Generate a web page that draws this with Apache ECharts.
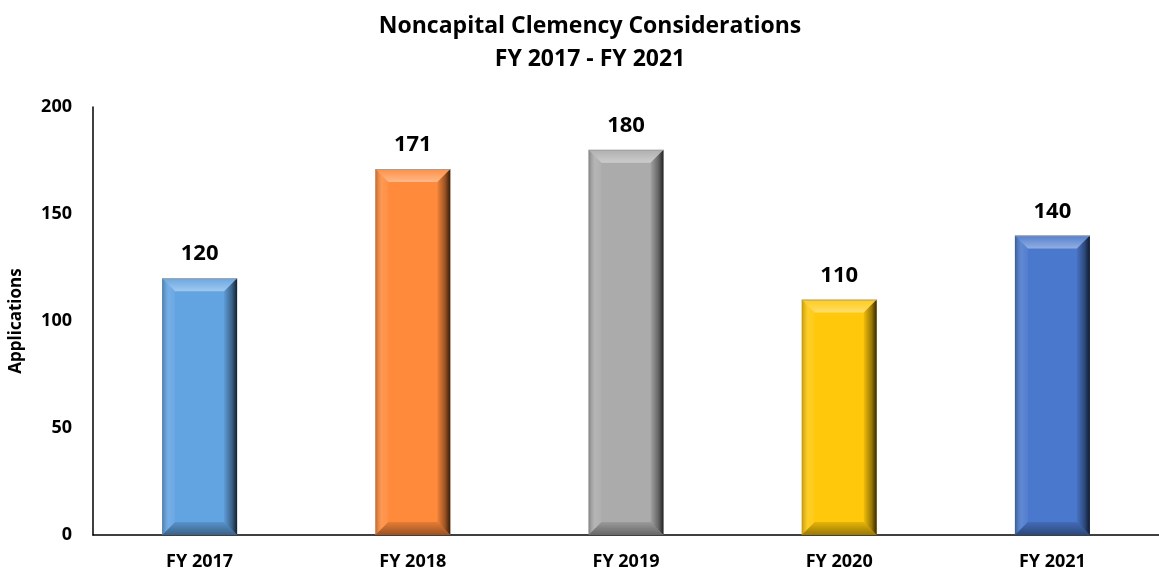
<!DOCTYPE html>
<html>
<head>
<meta charset="utf-8">
<script src="https://cdn.jsdelivr.net/npm/echarts@6/dist/echarts.min.js"></script>
<style>
  html, body { margin: 0; padding: 0; background: #fff; }
  #chart { width: 1159px; height: 571px; }
</style>
</head>
<body>
<div id="chart"></div>
<script>
// Noncapital clemency considerations, FY 2017 - FY 2021

var categories = ['FY 2017', 'FY 2018', 'FY 2019', 'FY 2020', 'FY 2021'];
var applications = [120, 171, 180, 110, 140];
var barColors = ['#62A3E2', '#FF8A3B', '#ABABAB', '#FFC80A', '#4A78CC'];
var yTicks = [0, 50, 100, 150, 200];

var fontFamily = '"Open Sans", Lato, sans-serif';

var chart = echarts.init(document.getElementById('chart'));

// bevel overlay drawn on top of each bar
function renderBevel(params, api) {
    var top = api.coord([api.value(0), api.value(1)]);
    var base = api.coord([api.value(0), 0]);
    var w = 75;
    var b = 13;
    var x0 = top[0] - w / 2, x1 = top[0] + w / 2;
    var y0 = top[1], y1 = base[1];
    return {
        type: 'group',
        children: [
            {
                type: 'polygon',
                shape: { points: [[x0, y0], [x1, y0], [x1 - b, y0 + b], [x0 + b, y0 + b]] },
                style: { fill: new echarts.graphic.LinearGradient(0, 0, 0, 1, [
                    { offset: 0, color: 'rgba(255,255,255,0.05)' },
                    { offset: 1, color: 'rgba(255,255,255,0.4)' }
                ]) }
            },
            {
                type: 'polygon',
                shape: { points: [[x0, y0], [x0 + b, y0 + b], [x0 + b, y1 - b], [x0, y1]] },
                style: { fill: new echarts.graphic.LinearGradient(0, 0, 1, 0, [
                    { offset: 0, color: 'rgba(0,0,0,0.25)' },
                    { offset: 0.5, color: 'rgba(255,255,255,0.12)' },
                    { offset: 1, color: 'rgba(255,255,255,0.05)' }
                ]) }
            },
            {
                type: 'polygon',
                shape: { points: [[x1, y0], [x1, y1], [x1 - b, y1 - b], [x1 - b, y0 + b]] },
                style: { fill: new echarts.graphic.LinearGradient(0, 0, 1, 0, [
                    { offset: 0, color: 'rgba(0,0,0,0.05)' },
                    { offset: 0.6, color: 'rgba(0,0,0,0.4)' },
                    { offset: 1, color: 'rgba(0,0,0,0.8)' }
                ]) }
            },
            {
                type: 'polygon',
                shape: { points: [[x0, y1], [x1, y1], [x1 - b, y1 - b], [x0 + b, y1 - b]] },
                style: { fill: new echarts.graphic.LinearGradient(0, 0, 0, 1, [
                    { offset: 0, color: 'rgba(0,0,0,0.1)' },
                    { offset: 1, color: 'rgba(0,0,0,0.4)' }
                ]) }
            },
            {
                type: 'line',
                shape: { x1: x0, y1: y0 + 0.5, x2: x1, y2: y0 + 0.5 },
                style: { stroke: 'rgba(160,160,160,0.9)', lineWidth: 1 }
            }
        ]
    };
}

var option = {
    animation: false,
    title: {
        text: 'Noncapital Clemency Considerations\nFY 2017 - FY 2021',
        left: 585,
        textAlign: 'center',
        top: 5,
        textStyle: {
            fontFamily: fontFamily,
            fontSize: 23,
            fontWeight: 'bold',
            color: '#000',
            lineHeight: 33
        }
    },
    grid: {
        left: 91,
        top: 107,
        width: 1080,
        height: 428
    },
    xAxis: {
        type: 'category',
        data: categories,
        axisLine: { lineStyle: { color: '#000', width: 1.5 } },
        axisTick: { show: false },
        axisLabel: {
            margin: 18,
            color: '#000',
            fontFamily: fontFamily,
            fontSize: 18,
            fontWeight: 'bold'
        }
    },
    yAxis: {
        type: 'value',
        min: 0,
        max: 200,
        interval: 50,
        name: 'Applications',
        nameLocation: 'middle',
        nameGap: 68,
        nameTextStyle: {
            color: '#000',
            fontFamily: fontFamily,
            fontSize: 17,
            fontWeight: 'bold'
        },
        axisLine: { show: true, lineStyle: { color: '#000', width: 1.5 } },
        axisTick: { show: false },
        splitLine: { show: false },
        axisLabel: {
            margin: 21,
            color: '#000',
            fontFamily: fontFamily,
            fontSize: 18,
            fontWeight: 'bold',
            formatter: function(v) {
                return yTicks.indexOf(v) >= 0 ? String(v) : '';
            }
        }
    },
    series: [
        {
            name: 'Applications',
            type: 'bar',
            barWidth: 75,
            data: applications.map(function(v, i) {
                return { value: v, itemStyle: { color: barColors[i] } };
            }),
            label: {
                show: true,
                position: 'top',
                distance: 13,
                color: '#000',
                fontFamily: fontFamily,
                fontSize: 22,
                fontWeight: 'bold'
            }
        },
        {
            type: 'custom',
            renderItem: renderBevel,
            silent: true,
            z: 3,
            data: applications.map(function(v, i) { return [i, v]; })
        }
    ]
};

chart.setOption(option);

window.addEventListener('resize', function() {
    chart.resize();
});
</script>
</body>
</html>
